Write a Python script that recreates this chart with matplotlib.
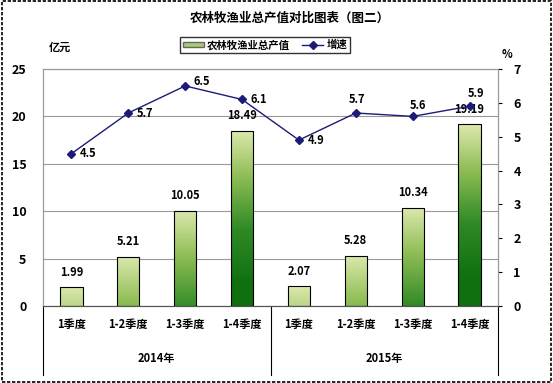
import numpy as np
import matplotlib.pyplot as plt
from matplotlib.colors import LinearSegmentedColormap
from matplotlib.lines import Line2D
from matplotlib.patches import Rectangle

plt.rcParams['font.family'] = ['Noto Sans CJK SC', 'DejaVu Sans']

quarters = ["1季度", "1-2季度", "1-3季度", "1-4季度", "1季度", "1-2季度", "1-3季度", "1-4季度"]
years = ["2014年", "2015年"]
output = [1.99, 5.21, 10.05, 18.49, 2.07, 5.28, 10.34, 19.19]
growth = [4.5, 5.7, 6.5, 6.1, 4.9, 5.7, 5.6, 5.9]

# 增速标签的偏移（点），右侧或上方
label_offsets = [(6, 0), (6, 0), (6, 3), (6, 0), (6, 0), (1, 10), (4, 8), (5, 9)]

fig = plt.figure(figsize=(5.53, 3.83), dpi=100)
ax = fig.add_axes([43 / 553, 77 / 383, 455 / 553, 237 / 383])
ax2 = ax.twinx()

x = np.arange(len(quarters))
bars = ax.bar(x, output, width=0.39, facecolor="none", edgecolor="black", linewidth=0.8, zorder=3)

# 渐变填充：顶部浅黄绿，越往下越深
cmap = LinearSegmentedColormap.from_list("g", ["#e9f0bc", "#8fbd55", "#2f8a25", "#107010"])
for b in bars:
    x0, w, h = b.get_x(), b.get_width(), b.get_height()
    ys = np.linspace(h, 0, 100)
    t = np.clip((h - ys) / 17.0 + 0.05, 0, 1)
    img = t.reshape(-1, 1)
    im = ax.imshow(img, cmap=cmap, vmin=0, vmax=1, extent=[x0, x0 + w, 0, h],
                   aspect="auto", zorder=2, interpolation="bilinear")
    clip = Rectangle((x0, 0), w, h, transform=ax.transData)
    im.set_clip_path(clip)

for xi, v in zip(x, output):
    ax.text(xi, v + 0.9, f"{v:.2f}", ha="center", va="bottom", fontsize=8, fontweight="bold")

ax.set_xlim(-0.5, len(quarters) - 0.5)
ax.set_ylim(0, 25)
ax.set_yticks([0, 5, 10, 15, 20, 25])
ax.yaxis.grid(True, color="#999999", linewidth=0.8)
ax.set_axisbelow(True)
ax.set_xticks([])
ax.tick_params(axis="y", length=0, labelsize=9, pad=12)
for lbl in ax.get_yticklabels():
    lbl.set_fontweight("bold")

ax2.plot(x, growth, color="#1c1c78", marker="D", markersize=4, linewidth=1, zorder=4)
for xi, g, off in zip(x, growth, label_offsets):
    ha = "left" if off[1] < 5 else "center"
    ax2.annotate(f"{g}", (xi, g), xytext=off, textcoords="offset points", ha=ha,
                 va="center", fontsize=8, fontweight="bold")
ax2.set_ylim(0, 7)
ax2.set_yticks(range(8))
ax2.tick_params(axis="y", length=3, direction="out", labelsize=9, pad=8)
for lbl in ax2.get_yticklabels():
    lbl.set_fontweight("bold")

for a in (ax, ax2):
    for s in ("top", "right", "left"):
        a.spines[s].set_color("#999999")
    a.spines["bottom"].set_color("#555555")

# 分类标签与年份标签
for xi, q in zip(x, quarters):
    ax.text(xi, -0.08, q, transform=ax.get_xaxis_transform(), ha="center", va="center",
            fontsize=8, fontweight="bold")
for i, y in enumerate(years):
    ax.text(1.5 + 4 * i, -0.22, y, transform=ax.get_xaxis_transform(), ha="center", va="center",
            fontsize=8, fontweight="bold")
for xv in (-0.5, 3.5, 7.5):
    ax.add_line(Line2D([xv, xv], [0, -0.29], transform=ax.get_xaxis_transform(),
                       color="black", linewidth=0.8, clip_on=False))

fig.text(290 / 553, 1 - 18 / 383, "农林牧渔业总产值对比图表（图二）", ha="center", va="center",
         fontsize=9, fontweight="bold")
fig.text(60 / 553, 1 - 47 / 383, "亿元", ha="center", va="center", fontsize=8, fontweight="bold")
fig.text(507 / 553, 1 - 55 / 383, "%", ha="center", va="center", fontsize=8, fontweight="bold")

handles = [Rectangle((0, 0), 1, 1, facecolor="#a8cc70", edgecolor="#666666"),
           Line2D([], [], color="#1c1c78", marker="D", markersize=4, linewidth=1)]
leg = fig.legend(handles, ["农林牧渔业总产值", "增速"], loc="center", bbox_to_anchor=(265 / 553, 1 - 45 / 383),
                 ncol=2, fontsize=7.5, frameon=True, fancybox=False, edgecolor="black",
                 handlelength=2.0, handleheight=0.4, handletextpad=0.3, columnspacing=1.2, borderpad=0.3)
for t in leg.get_texts():
    t.set_fontweight("bold")

fig.add_artist(Rectangle((0.003, 0.003), 0.994, 0.994, transform=fig.transFigure, fill=False,
                         edgecolor="black", linewidth=1.2, linestyle=(0, (2, 1))))

fig.savefig("out.png", dpi=100)
